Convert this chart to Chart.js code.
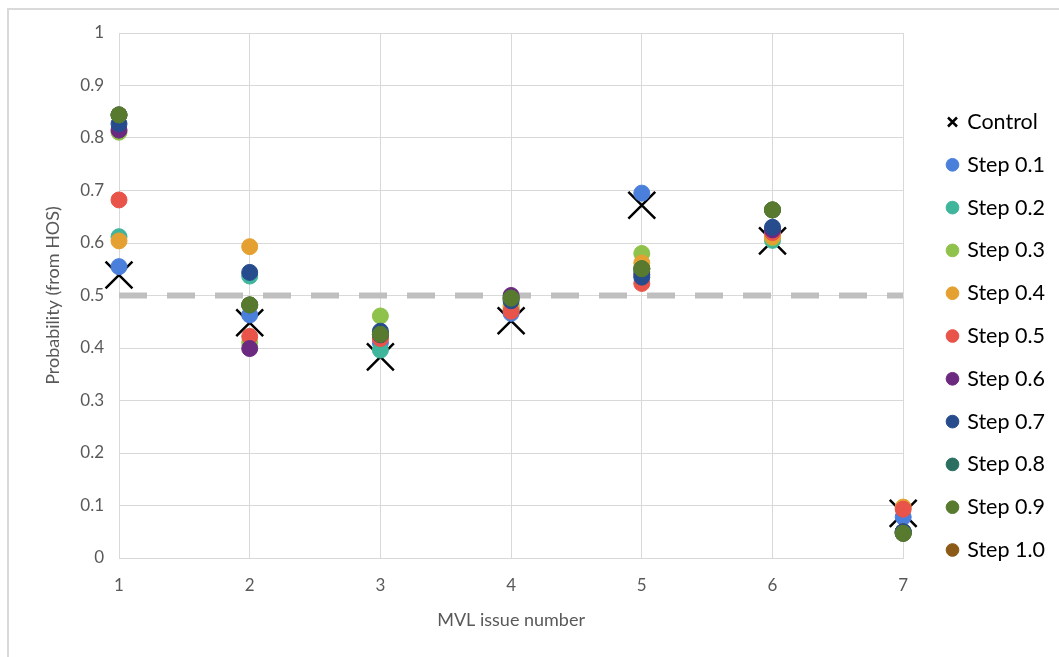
<!DOCTYPE html>
<html>
<head>
<meta charset="utf-8">
<script src="https://cdn.jsdelivr.net/npm/chart.js@4"></script>
<style>
  html, body { margin: 0; padding: 0; background: #fff; overflow: hidden; }
  #frame { position: absolute; left: 7px; top: 8px; width: 1100px; height: 700px;
           border-left: 2px solid #d9d9d9; border-top: 2px solid #d9d9d9; }
  #wrap { position: absolute; left: 0; top: 0; width: 1059px; height: 657px; }
</style>
</head>
<body>
<div id="frame"></div>
<div id="wrap"><canvas id="probChart"></canvas></div>
<script>
// --- Data ---
const issues = [1, 2, 3, 4, 5, 6, 7];
const control = [0.539, 0.448, 0.383, 0.452, 0.672, 0.604, 0.085];
const step01 = [0.555, 0.463, 0.410, 0.466, 0.695, 0.620, 0.078];
const step02 = [0.612, 0.537, 0.396, 0.474, 0.545, 0.605, 0.050];
const step03 = [0.811, 0.410, 0.461, 0.482, 0.580, 0.610, 0.050];
const step04 = [0.604, 0.593, 0.420, 0.478, 0.562, 0.612, 0.097];
const step05 = [0.682, 0.422, 0.418, 0.470, 0.523, 0.620, 0.093];
const step06 = [0.815, 0.399, 0.425, 0.500, 0.540, 0.625, 0.050];
const step07 = [0.827, 0.544, 0.432, 0.490, 0.535, 0.630, 0.050];
const step08 = [0.844, 0.482, 0.426, 0.495, 0.551, 0.663, 0.047];
const step09 = [0.844, 0.482, 0.426, 0.495, 0.551, 0.663, 0.047];
const step10 = [0.844, 0.482, 0.426, 0.495, 0.551, 0.663, 0.047];
const threshold = 0.5;

const stepSeries = [
    { label: 'Step 0.1', values: step01, color: '#4a7fdc', order: 10 },
    { label: 'Step 0.2', values: step02, color: '#3fb59b', order: 9 },
    { label: 'Step 0.3', values: step03, color: '#8fc24a', order: 8 },
    { label: 'Step 0.4', values: step04, color: '#e5a032', order: 7 },
    { label: 'Step 0.5', values: step05, color: '#e8534a', order: 6 },
    { label: 'Step 0.6', values: step06, color: '#6b2a80', order: 5 },
    { label: 'Step 0.7', values: step07, color: '#274c8e', order: 4 },
    { label: 'Step 0.8', values: step08, color: '#2a6f60', order: 3 },
    { label: 'Step 0.9', values: step09, color: '#587a2e', order: 2 },
    { label: 'Step 1.0', values: step10, color: '#8a5a16', order: 12 }
];

const FONT = 'Lato';
const textGray = '#595959';
const gridGray = '#d9d9d9';

function toPoints(values) {
    return values.map((v, i) => ({ x: issues[i], y: v }));
}

function buildDatasets() {
    const sets = [];
    sets.push({
        label: 'Control',
        data: toPoints(control),
        pointStyle: 'crossRot',
        pointRadius: 19,
        pointHoverRadius: 19,
        borderColor: '#000',
        backgroundColor: '#000',
        borderWidth: 2.5,
        pointBorderWidth: 2.5,
        clip: false,
        order: 50
    });
    stepSeries.forEach(s => {
        sets.push({
            label: s.label,
            data: toPoints(s.values),
            pointStyle: 'circle',
            pointRadius: 8,
            pointHoverRadius: 8,
            borderColor: s.color,
            backgroundColor: s.color,
            borderWidth: 1,
            clip: false,
            order: s.order
        });
    });
    // dashed 0.5 reference line
    sets.push({
        type: 'line',
        label: 'threshold',
        data: [{ x: issues[0], y: threshold }, { x: issues[issues.length - 1], y: threshold }],
        borderColor: '#bfbfbf',
        borderWidth: 6,
        borderDash: [28, 20],
        pointRadius: 0,
        showLine: true,
        order: 100
    });
    return sets;
}

function initChart() {
    const ctx = document.getElementById('probChart').getContext('2d');
    return new Chart(ctx, {
        type: 'scatter',
        data: { datasets: buildDatasets() },
        options: {
            responsive: true,
            maintainAspectRatio: false,
            animation: false,
            layout: { padding: { top: 33, right: 4, bottom: 18, left: 0 } },
            scales: {
                x: {
                    type: 'linear',
                    min: 1,
                    max: 7,
                    ticks: { stepSize: 1, color: textGray, font: { family: FONT, size: 17 }, padding: 17 },
                    grid: { color: gridGray, drawTicks: false },
                    border: { color: gridGray },
                    title: {
                        display: true,
                        text: 'MVL issue number',
                        color: textGray,
                        font: { family: FONT, size: 18 },
                        padding: { top: 0, bottom: 8 }
                    },
                    afterFit: s => { s.height = 81; }
                },
                y: {
                    min: 0,
                    max: 1,
                    ticks: {
                        stepSize: 0.1,
                        color: textGray,
                        font: { family: FONT, size: 17 },
                        padding: 15,
                        callback: v => (v === 0 || v === 1) ? String(v) : v.toFixed(1)
                    },
                    grid: { color: gridGray, drawTicks: false },
                    border: { color: gridGray },
                    title: {
                        display: true,
                        text: 'Probability (from HOS)',
                        color: textGray,
                        font: { family: FONT, size: 18 },
                        padding: { top: 42, bottom: 0 }
                    },
                    afterFit: s => { s.width = 119; }
                },
                gap: {
                    position: 'right',
                    display: true,
                    ticks: { display: false },
                    grid: { display: false, drawTicks: false },
                    border: { display: false },
                    afterFit: s => { s.width = 24; }
                }
            },
            plugins: {
                legend: {
                    position: 'right',
                    maxWidth: 140,
                    labels: {
                        usePointStyle: true,
                        boxWidth: 8,
                        boxHeight: 9,
                        padding: 21.3,
                        color: '#000',
                        font: { family: FONT, size: 21.5 },
                        filter: item => item.text !== 'threshold',
                        sort: (a, b) => a.datasetIndex - b.datasetIndex
                    }
                },
                tooltip: { enabled: false }
            }
        }
    });
}

document.addEventListener('DOMContentLoaded', () => {
    initChart();
});
</script>
</body>
</html>
